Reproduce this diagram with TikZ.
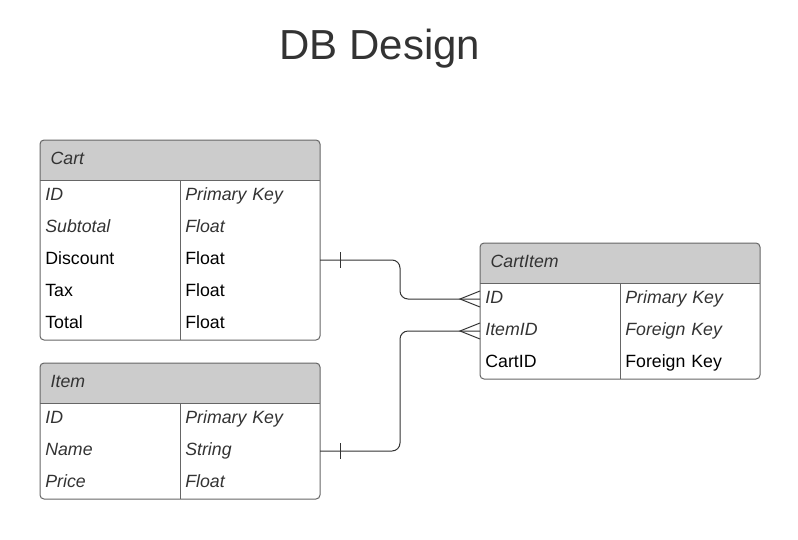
\documentclass[tikz,border=0pt]{standalone}
\usepackage{fontspec}
\setmainfont{Liberation Sans}
\usetikzlibrary{positioning,backgrounds}
\definecolor{hdrgray}{HTML}{CCCCCC}
\definecolor{rulegray}{HTML}{666666}
\definecolor{inkgray}{HTML}{333333}

\begin{document}
\begin{tikzpicture}[
  x=0.75pt, y=-0.75pt,
  every node/.style={outer sep=0pt, inner ysep=0pt},
  hdr/.style={minimum height=30pt, text width=194pt, inner xsep=8pt, align=left,
    text height=10pt, text depth=3pt, font=\fontsize{13.3}{16}\selectfont\itshape, text=inkgray},
  cell/.style={minimum height=24pt, text width=97pt, inner xsep=4pt, align=left,
    text height=10pt, text depth=3pt, font=\fontsize{13.3}{16}\selectfont},
  key/.style={cell, font=\fontsize{13.3}{16}\selectfont\itshape, text=inkgray},
  box/.style={draw=rulegray, line width=0.75pt, rounded corners=3pt},
  rule/.style={draw=rulegray, line width=0.75pt},
  conn/.style={draw=inkgray, line width=0.75pt}
]
\useasboundingbox (0,0) rectangle (798,539);

\node[font=\fontsize{31.5}{36}\selectfont, text=inkgray] (title) at (380,49) {DB Design};

% Cart
\node[hdr] (cart) at (180,160) {Cart};
\node[key, below right=0pt and 0pt of cart.south west] (cartid) {ID};
\node[key, right=0pt of cartid] (cartidtype) {Primary Key};
\node[key, below=0pt of cartid] (cartsub) {Subtotal};
\node[key, right=0pt of cartsub] (cartsubtype) {Float};
\node[cell, below=0pt of cartsub] (cartdisc) {Discount};
\node[cell, right=0pt of cartdisc] (cartdisctype) {Float};
\node[cell, below=0pt of cartdisc] (carttax) {Tax};
\node[cell, right=0pt of carttax] (carttaxtype) {Float};
\node[cell, below=0pt of carttax] (carttotal) {Total};
\node[cell, right=0pt of carttotal] (carttotaltype) {Float};

% Item
\node[hdr] (item) at (180,383) {Item};
\node[key, below right=0pt and 0pt of item.south west] (itemid) {ID};
\node[key, right=0pt of itemid] (itemidtype) {Primary Key};
\node[key, below=0pt of itemid] (itemname) {Name};
\node[key, right=0pt of itemname] (itemnametype) {String};
\node[key, below=0pt of itemname] (itemprice) {Price};
\node[key, right=0pt of itemprice] (itempricetype) {Float};

% CartItem
\node[hdr] (ci) at (620,263) {CartItem};
\node[key, below right=0pt and 0pt of ci.south west] (ciid) {ID};
\node[key, right=0pt of ciid] (ciidtype) {Primary Key};
\node[key, below=0pt of ciid] (ciitem) {ItemID};
\node[key, right=0pt of ciitem] (ciitemtype) {Foreign Key};
\node[cell, below=0pt of ciitem] (cicart) {CartID};
\node[cell, right=0pt of cicart] (cicarttype) {Foreign Key};

\begin{scope}[on background layer]
  \fill[hdrgray, rounded corners=3pt] (cart.north west) rectangle (cart.south east);
  \fill[hdrgray] (cart.west) rectangle (cart.south east);
  \fill[hdrgray, rounded corners=3pt] (item.north west) rectangle (item.south east);
  \fill[hdrgray] (item.west) rectangle (item.south east);
  \fill[hdrgray, rounded corners=3pt] (ci.north west) rectangle (ci.south east);
  \fill[hdrgray] (ci.west) rectangle (ci.south east);
\end{scope}

\draw[box] (cart.north west) rectangle (carttotaltype.south east);
\draw[rule] (cart.south west) -- (cart.south east);
\draw[rule] (cartidtype.north west) -- (carttotaltype.south west);

\draw[box] (item.north west) rectangle (itempricetype.south east);
\draw[rule] (item.south west) -- (item.south east);
\draw[rule] (itemidtype.north west) -- (itempricetype.south west);

\draw[box] (ci.north west) rectangle (cicarttype.south east);
\draw[rule] (ci.south west) -- (ci.south east);
\draw[rule] (ciidtype.north west) -- (cicarttype.south west);

% relations
\draw[conn, rounded corners=6pt] (cartdisctype.east) -- ++(80,0) |- (ciid.west);
\draw[conn] (cartdisctype.east) ++(20,-8) -- ++(0,16);
\draw[conn] (ciid.west) ++(0,-8) -- ++(-20,8) -- ++(20,8);

\draw[conn, rounded corners=6pt] (itemnametype.east) -- ++(80,0) |- (ciitem.west);
\draw[conn] (itemnametype.east) ++(20,-8) -- ++(0,16);
\draw[conn] (ciitem.west) ++(0,-8) -- ++(-20,8) -- ++(20,8);

\end{tikzpicture}
\end{document}
